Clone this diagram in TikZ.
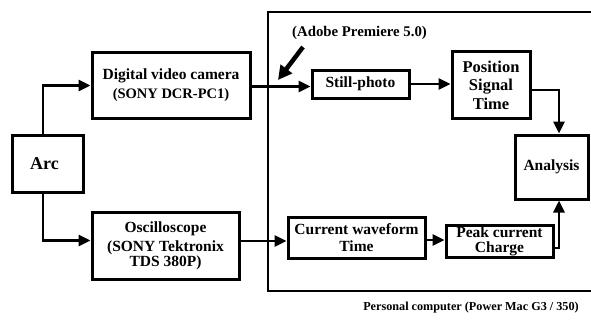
\documentclass[tikz,border=0pt]{standalone}
\usepackage{fontspec}
\setmainfont{Liberation Serif}
\usetikzlibrary{arrows.meta}
\tikzset{
  box/.style={draw, line width=3pt, rectangle, inner sep=0pt, align=center,
              font=\bfseries\fontsize{15.5}{18}\selectfont},
  link/.style={line width=2.8pt, -{Triangle[length=12pt,width=11pt]}},
  label/.style={font=\bfseries\fontsize{14.8}{17}\selectfont},
}
\begin{document}
\begin{tikzpicture}[x=1pt,y=-1pt]
  \useasboundingbox (0,0) rectangle (591,321);
  % the computer enclosure, running off the right-hand side
  \begin{scope}
    \clip (0,0) rectangle (591,321);
    \draw[line width=2.6pt] (600,12) -- (268,12) -- (268,291) -- (600,291);
  \end{scope}

  \node[box, minimum width=71pt, minimum height=57pt,
        font=\bfseries\fontsize{18}{20}\selectfont] (arc) at (47.5,163.5) {Arc\kern6pt};
  \node[box, minimum width=158pt, minimum height=65pt] (cam) at (171,85.5)
    {Digital video camera\\[1pt]{\fontsize{14.5}{17}\selectfont(SONY DCR-PC1)}};
  \node[box, minimum width=147pt, minimum height=67pt] (osc) at (165.5,245.5)
    {Oscilloscope\\[1pt](SONY Tektronix\\[-3pt]TDS 380P)};
  \node[box, minimum width=97pt, minimum height=28pt] (still) at (360.5,84) {Still-photo};
  \node[box, minimum width=78pt, minimum height=66pt,
        font=\bfseries\fontsize{16.5}{18.5}\selectfont] (pos) at (491,85)
    {Position\\Signal\\Time};
  \node[box, minimum width=73pt, minimum height=64pt] (anal) at (551.5,167)
    {\raisebox{4pt}{Analysis}};
  \node[box, minimum width=137pt, minimum height=41pt] (wave) at (356.5,237.5)
    {Current waveform\\[-1pt]Time};
  \node[box, minimum width=107pt, minimum height=32pt] (peak) at (499.5,241)
    {Peak current\\[-3pt]Charge};

  \node[label] (soft) at (359.5,33) {(Adobe Premiere 5.0)};
  \node[label, font=\bfseries\fontsize{12.2}{14}\selectfont] (pc) at (471,308)
    {Personal computer (Power Mac G3 / 350)};

  % signal paths
  \draw[link] ([xshift=-4.5pt]arc.north) |- (cam.west);
  \draw[link] ([xshift=-4.5pt]arc.south) |- ([yshift=5pt]osc.west);
  \draw[link] ([yshift=-1pt]cam.east) -- ([yshift=-1pt]cam.east -| still.west);
  \draw[link] (still.east) -- (still.east -| pos.west);
  \draw[link] ([yshift=-5pt]pos.east) -| ([xshift=7.5pt]anal.north);
  \draw[link] ([yshift=4.5pt]osc.east) -- ([yshift=4.5pt]osc.east -| wave.west);
  \draw[link] ([yshift=-2.5pt]wave.east) -- ([yshift=-2.5pt]wave.east -| peak.west);
  \draw[link] ([yshift=-7pt]peak.east) -| ([xshift=7.5pt]anal.south);

  % pointer from the software label
  \coordinate (ptail) at (303,47);
  \coordinate (ptip) at (278,80);
  \draw[line width=4.5pt, -{Triangle[length=14pt,width=14pt]}] (ptail) -- (ptip);
\end{tikzpicture}
\end{document}
